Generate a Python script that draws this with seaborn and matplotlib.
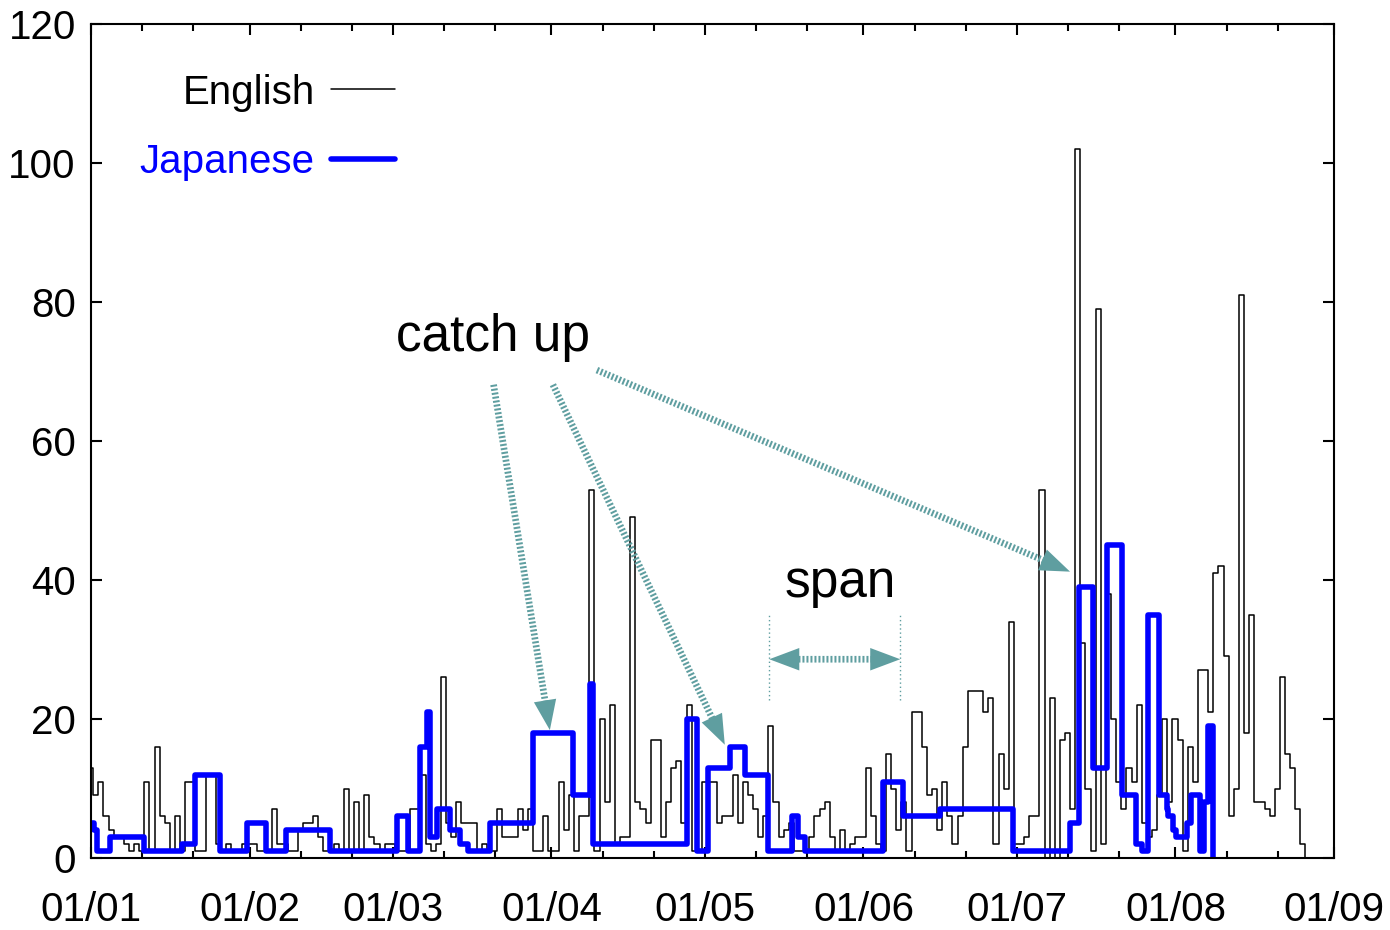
import matplotlib
matplotlib.use('Agg')
import matplotlib.pyplot as plt
import matplotlib.dates as mdates
import numpy as np
import pandas as pd
import seaborn as sns

# English: one count per day, bins start 10h after midnight (first bin is 31 Dec)
english_start = '2010-12-31 10:00'
english_counts = [
    13,
    # Jan
    9, 11, 6, 4, 3, 3, 2, 1, 2, 1, 11, 1, 16, 6, 5, 1, 6, 1, 11, 11,
    1, 1, 12, 12, 2, 1, 2, 1, 1, 2, 2,
    # Feb
    2, 1, 1, 1, 7, 2, 2, 1, 1, 4, 5, 5, 6, 3, 1, 1, 2, 1, 10, 1,
    8, 1, 9, 3, 2, 1, 2, 2,
    # Mar
    1, 1, 1, 7, 7, 12, 2, 1, 2, 26, 5, 3, 8, 5, 5, 5, 1, 2, 1, 1,
    7, 3, 3, 3, 7, 4, 7, 1, 1, 6, 1,
    # Apr
    1, 11, 4, 9, 1, 6, 6, 53, 1, 20, 8, 22, 2, 3, 3, 49, 8, 7, 5, 17,
    17, 3, 8, 13, 14, 5, 22, 1, 1, 11,
    # May
    11, 11, 5, 6, 6, 12, 5, 11, 9, 7, 3, 6, 19, 8, 3, 4, 5, 1, 1, 1,
    3, 6, 7, 8, 3, 1, 4, 1, 2, 3, 3,
    # Jun
    13, 6, 2, 1, 15, 10, 4, 8, 1, 21, 21, 16, 9, 10, 4, 11, 6, 2, 6, 16,
    24, 24, 24, 21, 23, 2, 15, 10, 34, 2,
    # Jul
    2, 3, 6, 6, 53, 0, 23, 0, 17, 18, 7, 102, 31, 10, 1, 79, 2, 38, 20, 11,
    7, 13, 11, 22, 5, 3, 4, 9, 20, 8, 20,
    # Aug
    17, 1, 16, 11, 27, 27, 21, 41, 42, 29, 6, 10, 81, 18, 35, 8, 8, 7, 6, 10,
    26, 15, 13, 7, 2, 0,
]

# Japanese: value changes (days after 1 Jan, new value)
japanese_days = [0, 0.6, 1.1, 3.7, 10.4, 17.7, 20.3, 25.2, 30.4, 34.3,
                 38.2, 46.7, 59.8, 62.0, 64.3, 65.6, 66.3, 67.6, 70.2, 72.1,
                 73.7, 78.0, 86.5, 94.3, 97.6, 98.2, 116.5, 118.4, 120.7, 124.9,
                 127.9, 132.4, 137.0, 138.3, 139.6, 154.9, 158.8, 166.0, 180.3, 191.4,
                 193.2, 195.8, 198.6, 201.5, 204.3, 205.4, 206.7, 208.7, 210.3, 210.6,
                 211.6, 212.2, 214.2, 215.0, 216.8, 217.5, 218.4, 219.4]
japanese_values = [5, 4, 1, 3, 1, 2, 12, 1, 5, 1,
                   4, 1, 6, 1, 16, 21, 3, 7, 4, 2,
                   1, 5, 18, 9, 25, 2, 20, 1, 13, 16,
                   12, 1, 6, 3, 1, 11, 6, 7, 1, 5,
                   39, 13, 45, 9, 2, 1, 35, 9, 7, 6,
                   4, 3, 5, 9, 1, 8, 19, 0]

year_start = pd.Timestamp('2011-01-01')
eng = pd.DataFrame({
    'date': pd.date_range(english_start, periods=len(english_counts), freq='D'),
    'count': english_counts,
})
jpn = pd.DataFrame({
    'date': year_start + pd.to_timedelta(japanese_days, unit='D'),
    'count': japanese_values,
})


def day(d):
    return year_start + pd.Timedelta(days=d)


sns.set_style('ticks')
plt.rcParams['font.family'] = ['Liberation Sans', 'DejaVu Sans']
plt.rcParams['axes.linewidth'] = 1.5
for key in ['text.color', 'axes.labelcolor', 'xtick.color', 'ytick.color', 'axes.edgecolor']:
    plt.rcParams[key] = 'black'

fig = plt.figure(figsize=(13.9, 9.3), dpi=100)
ax = fig.add_axes([0.0655, 0.0774, 0.8942, 0.8968])

sns.lineplot(data=eng, x='date', y='count', ax=ax, color='black', lw=1.1,
             drawstyle='steps-post', label='English', estimator=None)
sns.lineplot(data=jpn, x='date', y='count', ax=ax, color='#0000ff', lw=4.0,
             drawstyle='steps-post', label='Japanese', estimator=None,
             solid_joinstyle='round', solid_capstyle='round')

ax.set_xlim(year_start, pd.Timestamp('2011-09-01'))
ax.set_ylim(0, 120)
ax.set_yticks(np.arange(0, 121, 20))
ax.xaxis.set_major_locator(mdates.MonthLocator())
ax.xaxis.set_major_formatter(mdates.DateFormatter('%d/%m'))
ax.xaxis.set_minor_locator(mdates.DayLocator(bymonthday=[11, 21]))
ax.tick_params(which='both', direction='in', top=True, right=True,
               labelsize=29, width=1.5)
ax.tick_params(axis='x', which='major', length=8, pad=24)
ax.tick_params(axis='x', which='minor', length=5)
ax.tick_params(axis='y', which='major', length=8, pad=11)
ax.set_xlabel('')
ax.set_ylabel('')

ax.legend(loc='upper right', bbox_to_anchor=(0.274, 0.984), frameon=False,
          markerfirst=False, labelcolor='linecolor', fontsize=29,
          handlelength=1.6, handletextpad=0.4, labelspacing=0.78)

teal = '#5f9ea0'
head_pts = 21


def dotted_arrow(start, end, style='-|>'):
    # dotted shaft, ending where the solid head begins
    shrink_a = head_pts if style == '<|-|>' else 0
    ax.annotate('', xy=end, xytext=start,
                arrowprops=dict(arrowstyle='-', color=teal, lw=4.8,
                                linestyle=(0, (0.3, 0.3)), capstyle='butt',
                                shrinkA=shrink_a, shrinkB=head_pts - 2))
    ax.annotate('', xy=end, xytext=start,
                arrowprops=dict(arrowstyle=style + ',head_length=0.72,head_width=0.27',
                                facecolor=teal, edgecolor='none', lw=0,
                                shrinkA=0, shrinkB=0, mutation_scale=30))


ax.text(day(78.6), 74.9, 'catch up', fontsize=37, ha='center', va='center')
dotted_arrow((day(78.7), 68.1), (day(89.7), 18.4))
dotted_arrow((day(90.3), 68.1), (day(123.9), 16.3))
dotted_arrow((day(98.9), 70.2), (day(191.4), 41.2))

ax.text(day(146.4), 39.5, 'span', fontsize=37, ha='center', va='center')
ax.vlines([day(132.6), day(158.2)], 22.7, 35, colors=teal, lw=1, linestyles=(0, (1, 2)))
dotted_arrow((day(132.6), 28.6), (day(158.2), 28.6), style='<|-|>')

fig.savefig('out.png', dpi=100)
